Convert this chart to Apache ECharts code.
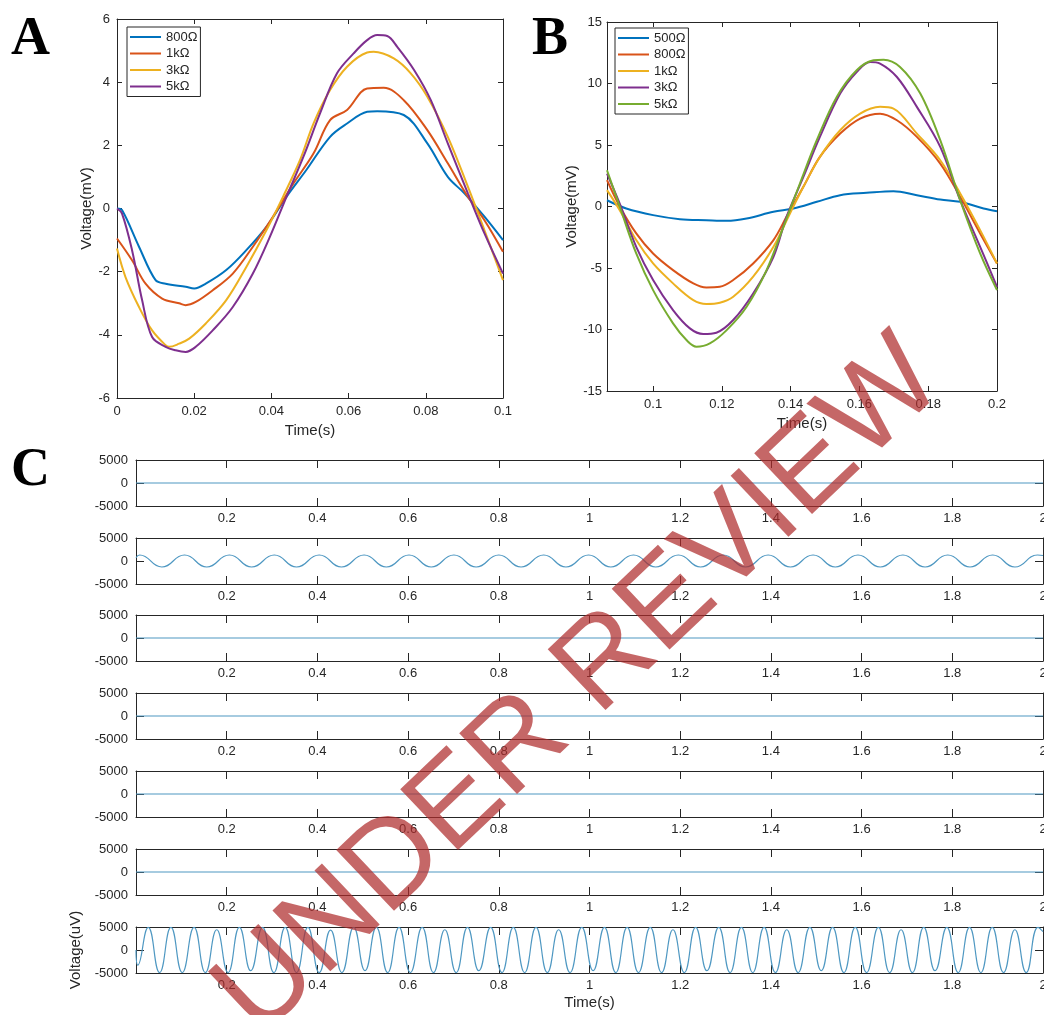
<!DOCTYPE html>
<html>
<head>
<meta charset="utf-8">
<script src="https://cdn.jsdelivr.net/npm/echarts@6/dist/echarts.min.js"></script>
<style>
html,body{margin:0;padding:0;background:#fff;overflow:hidden;}
#chart{width:1044px;height:1015px;}
</style>
</head>
<body>
<div id="chart"></div>
<script>
// ---------- Panel A data (Time in s, Voltage in mV) ----------
const aNames = ['800Ω', '1kΩ', '3kΩ', '5kΩ'];
const aT800 = [0, 0.0013, 0.0057, 0.010, 0.0126, 0.0178, 0.020, 0.023, 0.0283, 0.0335, 0.0387, 0.0439, 0.049, 0.0552, 0.0596, 0.0648, 0.0674, 0.0743, 0.0804, 0.0857, 0.090, 0.0952, 0.100];
const aV800 = [0, -0.05, -1.21, -2.27, -2.38, -2.48, -2.53, -2.38, -1.95, -1.32, -0.58, 0.37, 1.21, 2.27, 2.69, 3.06, 3.08, 2.96, 2.06, 1.0, 0.48, -0.26, -1.0];
const aT1k = [0, 0.0039, 0.0074, 0.0117, 0.0161, 0.0178, 0.0204, 0.0248, 0.030, 0.0352, 0.0404, 0.0457, 0.0509, 0.0552, 0.0596, 0.0648, 0.0691, 0.0743, 0.0804, 0.0857, 0.0909, 0.0952, 0.100];
const aV1k = [-0.95, -1.64, -2.38, -2.85, -3.0, -3.06, -2.96, -2.59, -2.06, -1.21, -0.26, 0.79, 1.74, 2.8, 3.12, 3.8, 3.82, 3.43, 2.48, 1.43, 0.37, -0.37, -1.37];
const aT3k = [0, 0.0022, 0.0057, 0.0091, 0.0126, 0.0135, 0.0161, 0.0187, 0.023, 0.0283, 0.0335, 0.0387, 0.043, 0.0474, 0.0509, 0.0552, 0.0596, 0.0648, 0.0665, 0.0717, 0.0761, 0.0804, 0.0857, 0.0909, 0.0952, 0.100];
const aV3k = [-1.27, -2.17, -3.12, -3.86, -4.33, -4.38, -4.28, -4.12, -3.64, -2.9, -1.85, -0.69, 0.37, 1.53, 2.69, 3.75, 4.49, 4.94, 4.96, 4.75, 4.28, 3.54, 2.27, 0.69, -0.69, -2.27];
const aT5k = [0, 0.0013, 0.0039, 0.0065, 0.0091, 0.0126, 0.0152, 0.0178, 0.0204, 0.0248, 0.030, 0.0352, 0.0396, 0.0439, 0.0483, 0.0526, 0.057, 0.0613, 0.0648, 0.0674, 0.070, 0.0726, 0.077, 0.0813, 0.0857, 0.0909, 0.0952, 0.100];
const aV5k = [0, -0.16, -1.32, -2.9, -4.07, -4.38, -4.49, -4.54, -4.38, -3.86, -3.12, -2.06, -0.9, 0.37, 1.64, 3.01, 4.28, 4.91, 5.33, 5.49, 5.46, 5.12, 4.38, 3.43, 2.06, 0.48, -0.79, -2.06];
const aXTicks = [0, 0.02, 0.04, 0.06, 0.08, 0.1];
const aYTicks = [-6, -4, -2, 0, 2, 4, 6];

// ---------- Panel B data (Time in s, Voltage in mV) ----------
const bNames = ['500Ω', '800Ω', '1kΩ', '3kΩ', '5kΩ'];
const bT500 = [0.0866, 0.0922, 0.1, 0.1078, 0.1155, 0.1214, 0.1272, 0.135, 0.1408, 0.1476, 0.1544, 0.1621, 0.1699, 0.1767, 0.1835, 0.1893, 0.1961, 0.2];
const bV500 = [0.51, -0.16, -0.7, -1.03, -1.11, -1.16, -0.97, -0.43, -0.16, 0.38, 0.92, 1.11, 1.25, 0.92, 0.57, 0.38, -0.16, -0.38];
const bT800 = [0.0866, 0.0903, 0.0951, 0.1, 0.1058, 0.1117, 0.1155, 0.1194, 0.1233, 0.1291, 0.135, 0.1388, 0.1437, 0.1485, 0.1544, 0.1602, 0.166, 0.1709, 0.1767, 0.1835, 0.1893, 0.1951, 0.2];
const bV800 = [2.14, 0, -2.19, -3.82, -5.17, -6.25, -6.58, -6.53, -5.98, -4.63, -2.73, -0.84, 1.6, 4.03, 5.93, 7.15, 7.55, 7.01, 5.66, 3.49, 0.79, -2.19, -4.63];
const bT1k = [0.0866, 0.0903, 0.0951, 0.1, 0.1058, 0.1117, 0.1155, 0.1194, 0.1233, 0.1291, 0.135, 0.1398, 0.1437, 0.1485, 0.1544, 0.1602, 0.166, 0.1699, 0.1767, 0.1835, 0.1893, 0.1951, 0.2];
const bV1k = [1.33, -0.3, -2.73, -4.63, -6.25, -7.61, -7.93, -7.83, -7.34, -5.71, -3.28, -0.57, 1.6, 4.03, 6.2, 7.55, 8.1, 7.96, 5.93, 3.76, 1.06, -1.92, -4.63];
const bT3k = [0.0866, 0.0903, 0.0951, 0.1, 0.1058, 0.1107, 0.1146, 0.1184, 0.1233, 0.1291, 0.135, 0.1388, 0.1437, 0.1485, 0.1544, 0.1592, 0.1631, 0.166, 0.1709, 0.1767, 0.1835, 0.1893, 0.1951, 0.2];
const bV3k = [2.68, 0.24, -3.28, -5.98, -8.42, -9.91, -10.37, -10.26, -9.23, -7.07, -4.09, -0.84, 2.41, 5.66, 9.18, 10.94, 11.75, 11.62, 10.53, 8.1, 4.85, 0.51, -3.28, -6.53];
const bT5k = [0.0866, 0.0903, 0.0951, 0.1, 0.1058, 0.1097, 0.1126, 0.1165, 0.1214, 0.1272, 0.133, 0.1379, 0.1427, 0.1476, 0.1534, 0.1592, 0.1641, 0.167, 0.1718, 0.1777, 0.1835, 0.1893, 0.1951, 0.2];
const bV5k = [2.95, 0, -3.82, -6.8, -9.5, -10.86, -11.4, -11.13, -10.05, -8.15, -5.17, -1.65, 1.87, 5.39, 8.91, 11.08, 11.89, 11.94, 11.35, 9.18, 5.39, 0.51, -3.82, -6.8];
const bXTicks = [0.1, 0.12, 0.14, 0.16, 0.18, 0.2];
const bYTicks = [-15, -10, -5, 0, 5, 10, 15];

// ---------- Panel C data (Time in s, Voltage in uV) ----------
const cXTicks = [0.2, 0.4, 0.6, 0.8, 1, 1.2, 1.4, 1.6, 1.8, 2];
const cYTicks = [-5000, 0, 5000];
const cFlatT = [0, 2];
const cFlatV = [0, 0];
// row 2: ~10 Hz wave, peaks / troughs
const cRow2T = [0, 0.008, 0.057, 0.107, 0.156, 0.206, 0.255, 0.305, 0.354, 0.404, 0.453, 0.503, 0.552, 0.602, 0.651, 0.701, 0.750, 0.800, 0.849, 0.899, 0.948, 0.998, 1.047, 1.097, 1.146, 1.196, 1.245, 1.295, 1.344, 1.394, 1.443, 1.493, 1.542, 1.592, 1.641, 1.691, 1.740, 1.790, 1.839, 1.889, 1.938, 1.988, 2.0];
const cRow2V = [700, 1300, -1300, 1300, -1300, 1300, -1300, 1300, -1300, 1300, -1300, 1300, -1300, 1300, -1300, 1300, -1300, 1300, -1300, 1300, -1300, 1300, -1300, 1300, -1300, 1300, -1300, 1300, -1300, 1300, -1300, 1300, -1300, 1300, -1300, 1300, -1300, 1300, -1300, 1300, -1300, 1300, 1200];
// row 7: ~20 Hz wave filling the axis
const cRow7T = [0, 0.004, 0.027, 0.052, 0.077, 0.102, 0.128, 0.153, 0.178, 0.203, 0.228, 0.253, 0.279, 0.304, 0.329, 0.354, 0.379, 0.404, 0.429, 0.454, 0.480, 0.505, 0.530, 0.555, 0.580, 0.605, 0.631, 0.656, 0.681, 0.706, 0.731, 0.756, 0.782, 0.807, 0.832, 0.857, 0.882, 0.907, 0.932, 0.957, 0.983, 1.008, 1.033, 1.058, 1.083, 1.108, 1.134, 1.159, 1.184, 1.209, 1.234, 1.259, 1.285, 1.310, 1.335, 1.360, 1.385, 1.410, 1.435, 1.460, 1.486, 1.511, 1.536, 1.561, 1.586, 1.611, 1.637, 1.662, 1.687, 1.712, 1.737, 1.762, 1.788, 1.813, 1.838, 1.863, 1.888, 1.913, 1.938, 1.963, 1.989, 2.0];
const cRow7V = [0, -3300, 4900, -4900, 4900, -4900, 4900, -4900, 4400, -4900, 4900, -4500, 4900, -4900, 4900, -4900, 4900, -4900, 4300, -4900, 4900, -4500, 4900, -4900, 4900, -4900, 4900, -4900, 4400, -4900, 4900, -4500, 4900, -4900, 4900, -4900, 4900, -4900, 4400, -4900, 4900, -4500, 4900, -4900, 4900, -4900, 4900, -4900, 4400, -4900, 4900, -4500, 4900, -4900, 4900, -4900, 4900, -4900, 4400, -4900, 4900, -4500, 4900, -4900, 4900, -4900, 4900, -4900, 4400, -4900, 4900, -4500, 4900, -4900, 4900, -4900, 4900, -4900, 4400, -4900, 4900, 4000];

// ---------- styling ----------
const FONT = "'Liberation Sans', Arial, sans-serif";
const INK = '#262626';
const aColors = ['#0072BD', '#D95319', '#EDB120', '#7E2F8E'];
const bColors = ['#0072BD', '#D95319', '#EDB120', '#7E2F8E', '#77AC30'];
const cColor = '#4f98c2';

function pairs(t, v) { return t.map((x, i) => [x, v[i]]); }
const plain = (v) => String(v);

const grids = [];
const xAxes = [];
const yAxes = [];
const series = [];

function addPanel(grid, xCfg, yCfg) {
  const gi = grids.length;
  grids.push(Object.assign({ containLabel: false, outerBoundsMode: 'none' }, grid));
  const axLine = { show: true, onZero: false, lineStyle: { color: INK, width: 1 } };
  const xBase = { type: 'value', gridIndex: gi, min: xCfg.min, max: xCfg.max, splitLine: { show: false }, axisLine: axLine };
  const yBase = { type: 'value', gridIndex: gi, min: yCfg.min, max: yCfg.max, splitLine: { show: false }, axisLine: axLine };
  const xTick = { show: true, inside: true, length: xCfg.tickLen, lineStyle: { color: INK }, customValues: xCfg.ticks };
  const yTick = { show: true, inside: true, length: yCfg.tickLen, lineStyle: { color: INK }, customValues: yCfg.ticks };
  xAxes.push(Object.assign({}, xBase, {
    position: 'bottom',
    axisTick: xTick,
    axisLabel: { show: true, customValues: xCfg.labels, formatter: plain, color: INK, fontSize: 13, fontFamily: FONT, margin: xCfg.labelMargin, hideOverlap: false },
    name: xCfg.name || '', nameLocation: 'middle', nameGap: xCfg.nameGap || 0,
    nameTextStyle: { color: INK, fontSize: 15, fontFamily: FONT }
  }));
  xAxes.push(Object.assign({}, xBase, { position: 'top', axisTick: xTick, axisLabel: { show: false } }));
  yAxes.push(Object.assign({}, yBase, {
    position: 'left',
    axisTick: yTick,
    axisLabel: { show: true, customValues: yCfg.ticks, formatter: plain, color: INK, fontSize: 13, fontFamily: FONT, margin: yCfg.labelMargin },
    name: yCfg.name || '', nameLocation: 'middle', nameGap: yCfg.nameGap || 0, nameRotate: 90,
    nameTextStyle: { color: INK, fontSize: 15, fontFamily: FONT }
  }));
  yAxes.push(Object.assign({}, yBase, { position: 'right', axisTick: yTick, axisLabel: { show: false } }));
  return gi;
}

// Panel A
const gA = addPanel({ left: 117, top: 19, width: 386, height: 379 },
  { min: 0, max: 0.1, ticks: aXTicks, labels: aXTicks, tickLen: 5, labelMargin: 7, name: 'Time(s)', nameGap: 25 },
  { min: -6, max: 6, ticks: aYTicks, tickLen: 5, labelMargin: 7, name: 'Voltage(mV)', nameGap: 20 });
[[aT800, aV800], [aT1k, aV1k], [aT3k, aV3k], [aT5k, aV5k]].forEach((d, i) => {
  series.push({ type: 'line', name: 'A|' + aNames[i], xAxisIndex: 2 * gA, yAxisIndex: 2 * gA, data: pairs(d[0], d[1]),
    smooth: 0.35, showSymbol: false, symbol: 'none', lineStyle: { color: aColors[i], width: 2 }, itemStyle: { color: aColors[i] }, animation: false });
});

// Panel B
const gB = addPanel({ left: 607, top: 22, width: 390, height: 369 },
  { min: 0.0866, max: 0.2, ticks: bXTicks, labels: bXTicks, tickLen: 5, labelMargin: 7, name: 'Time(s)', nameGap: 25 },
  { min: -15, max: 15, ticks: bYTicks, tickLen: 5, labelMargin: 5, name: 'Voltage(mV)', nameGap: 27 });
[[bT500, bV500], [bT800, bV800], [bT1k, bV1k], [bT3k, bV3k], [bT5k, bV5k]].forEach((d, i) => {
  series.push({ type: 'line', name: 'B|' + bNames[i], xAxisIndex: 2 * gB, yAxisIndex: 2 * gB, data: pairs(d[0], d[1]),
    smooth: 0.35, showSymbol: false, symbol: 'none', lineStyle: { color: bColors[i], width: 2 }, itemStyle: { color: bColors[i] }, animation: false });
});

// Panel C rows
const cTops = [460, 538, 615, 693, 771, 849, 927];
const cRows = [[cFlatT, cFlatV], [cRow2T, cRow2V], [cFlatT, cFlatV], [cFlatT, cFlatV], [cFlatT, cFlatV], [cFlatT, cFlatV], [cRow7T, cRow7V]];
cTops.forEach((top, r) => {
  const last = r === cTops.length - 1;
  const g = addPanel({ left: 136, top: top, width: 907, height: 46 },
    { min: 0, max: 2, ticks: cXTicks, labels: cXTicks, tickLen: 8, labelMargin: 6, name: last ? 'Time(s)' : '', nameGap: 22 },
    { min: -5000, max: 5000, ticks: cYTicks, tickLen: 8, labelMargin: 8, name: last ? 'Voltage(uV)' : '', nameGap: 46 });
  series.push({ type: 'line', name: 'C|' + r, xAxisIndex: 2 * g, yAxisIndex: 2 * g, data: pairs(cRows[r][0], cRows[r][1]),
    smooth: 0.5, showSymbol: false, symbol: 'none', lineStyle: { color: cColor, width: 1.2 }, itemStyle: { color: cColor }, animation: false });
});

const legendBase = {
  orient: 'vertical', icon: 'rect', itemWidth: 31, itemHeight: 2, itemGap: 2.5,
  selectedMode: false, backgroundColor: '#fff', borderColor: INK, borderWidth: 1, padding: [3, 3, 3, 3],
  textStyle: { color: INK, fontSize: 13, fontFamily: FONT, lineHeight: 14 },
  formatter: (n) => n.split('|')[1]
};

const option = {
  animation: false,
  backgroundColor: '#fff',
  grid: grids,
  xAxis: xAxes,
  yAxis: yAxes,
  series: series,
  legend: [
    Object.assign({}, legendBase, { left: 127, top: 27, data: aNames.map(n => 'A|' + n) }),
    Object.assign({}, legendBase, { left: 615, top: 28, data: bNames.map(n => 'B|' + n) })
  ],
  graphic: [
    { type: 'text', left: 11, top: 13, style: { text: 'A', font: 'bold 54px "Liberation Serif", "Times New Roman", serif', fill: '#000' } },
    { type: 'text', left: 532, top: 13, style: { text: 'B', font: 'bold 54px "Liberation Serif", "Times New Roman", serif', fill: '#000' } },
    { type: 'text', left: 11, top: 444, style: { text: 'C', font: 'bold 54px "Liberation Serif", "Times New Roman", serif', fill: '#000' } },
    { type: 'text', x: 580, y: 688, rotation: 43.5 * Math.PI / 180, z: 100,
      style: { text: 'UNDER REVIEW', font: '122px "Liberation Sans", Arial, sans-serif', fill: 'rgba(175,45,45,0.72)', align: 'center', verticalAlign: 'middle' } }
  ]
};

const chart = echarts.init(document.getElementById('chart'), null, { renderer: 'canvas' });
chart.setOption(option);
</script>
</body>
</html>
